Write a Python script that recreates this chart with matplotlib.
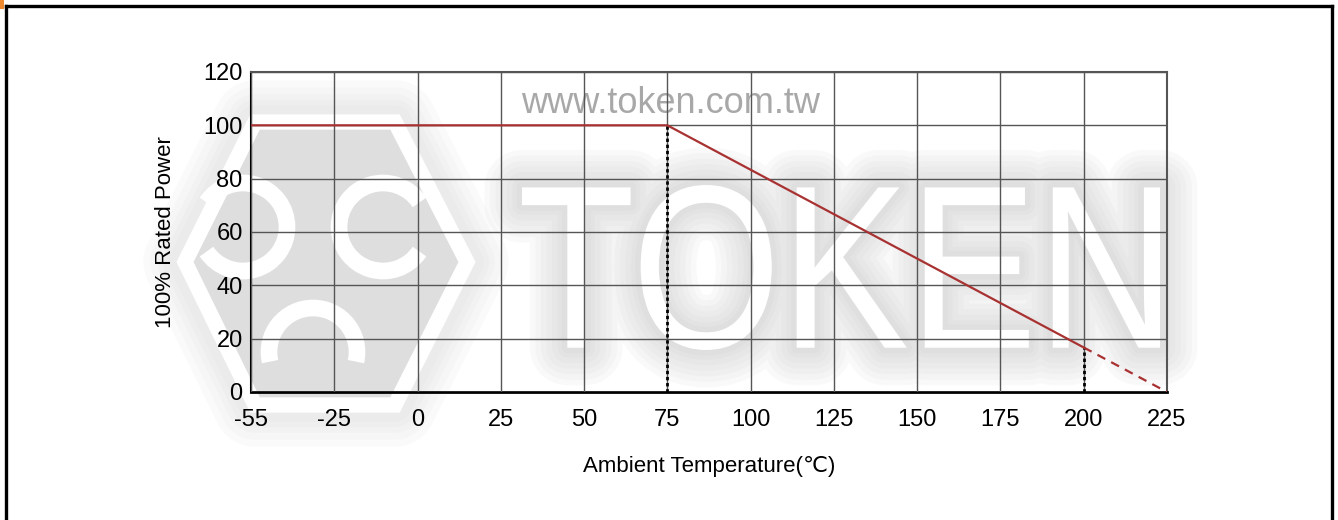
import numpy as np
import matplotlib
matplotlib.use("Agg")
import matplotlib.pyplot as plt
import matplotlib.patheffects as pe
from matplotlib.lines import Line2D
from matplotlib.patches import Rectangle, Polygon, Arc, PathPatch
from matplotlib.textpath import TextPath
from matplotlib.font_manager import FontProperties
from matplotlib.transforms import Affine2D

plt.rcParams['font.family'] = ['Liberation Sans', 'DejaVu Sans']

# data
tick_temps = [-55, -25, 0, 25, 50, 75, 100, 125, 150, 175, 200, 225]
tick_labels = ['-55', '-25', '0', '25', '50', '75', '100', '125', '150', '175', '200', '225']
y_ticks = [0, 20, 40, 60, 80, 100, 120]

solid_temps = [-55, 75, 200]
solid_power = [100, 100, 16.7]
dash_temps = [200, 225]
dash_power = [16.7, 0]
marker_temps = [75, 200]
marker_power = [100, 16.7]

W, H = 1338, 520


def pos(t):
    # axis is evenly spaced by tick index, not by value
    return np.interp(t, tick_temps, np.arange(len(tick_temps)))


def glow(color, widths, alpha):
    return [pe.Stroke(linewidth=w, foreground=color, alpha=alpha, joinstyle='round')
            for w in widths]


def px(x, y):
    return (x / W, 1 - y / H)


fig = plt.figure(figsize=(W / 100, H / 100), dpi=100)
ax = fig.add_axes([251 / W, 128 / H, 916 / W, 320 / H])

# ---- watermark logo ----
hexpts = [px(185, 262), px(255, 122), px(395, 122), px(467, 262), px(395, 405), px(255, 405)]
hexagon = Polygon(hexpts, closed=True, transform=fig.transFigure, facecolor='#dedede',
                  edgecolor='white', lw=11, zorder=0.3, clip_on=False,
                  path_effects=glow('#c4c4c4', [60, 50, 40, 32, 24], 0.07) + [pe.Normal()])
ax.add_artist(hexagon)
for cx, cy, th1, th2 in [(243, 227, -120, 120), (383, 227, 60, 300), (313, 352, -30, 210)]:
    x0, y0 = px(cx, cy)
    ring = Arc((x0, y0), 88 / W, 88 / H, theta1=th1, theta2=th2, transform=fig.transFigure,
               color='white', lw=12, zorder=0.4, clip_on=False)
    ax.add_artist(ring)

# ---- watermark text ----
tp = TextPath((0, 0), 'TOKEN', size=1, prop=FontProperties(family='Liberation Sans'))
ext = tp.get_extents()
x0, y0 = px(522, 350)
x1, y1 = px(1160, 185)
tr = (Affine2D().translate(-ext.x0, -ext.y0)
      .scale((x1 - x0) / ext.width, (y1 - y0) / ext.height)
      .translate(x0, y0) + fig.transFigure)
token = PathPatch(tp, transform=tr, facecolor='white', edgecolor='none', zorder=0.5,
                  clip_on=False,
                  path_effects=glow('#b8b8b8', [54, 46, 38, 30, 22, 14, 8], 0.07) + [pe.Normal()])
ax.add_artist(token)

ax.text(0.4585, 0.955, 'www.token.com.tw', transform=ax.transAxes, ha='center', va='top',
        fontsize=26, color='#a8a8a8', zorder=1)

# ---- curve ----
ax.plot(pos(solid_temps), solid_power, color='#a83232', lw=1.6, zorder=4)
ax.plot(pos(dash_temps), dash_power, color='#a83232', lw=1.6, ls=(0, (4, 3)), zorder=4)
for t, p in zip(marker_temps, marker_power):
    ax.plot([pos(t), pos(t)], [0, p], color='black', lw=2, ls=(0, (1.2, 1)), zorder=3)

ax.set_xlim(0, len(tick_temps) - 1)
ax.set_ylim(0, 120)
ax.set_xticks(np.arange(len(tick_temps)))
ax.set_xticklabels(tick_labels)
ax.set_yticks(y_ticks)
ax.tick_params(length=0, labelsize=17, pad=12)
ax.tick_params(axis='y', pad=6)
ax.grid(True, color='#555555', lw=1, zorder=2)
ax.set_axisbelow(False)
ax.patch.set_alpha(0)
for s in ['top', 'right']:
    ax.spines[s].set_color('#555555')
    ax.spines[s].set_linewidth(1.5)
ax.spines['bottom'].set_linewidth(2)
ax.spines['left'].set_linewidth(1.5)

ax.set_xlabel('Ambient Temperature(\u2103)', fontsize=16, labelpad=18)
ax.set_ylabel('100% Rated Power', fontsize=16, labelpad=20)

# outer frame
fig.add_artist(Line2D([6 / W, 6 / W], [0, 1 - 6 / H], color='black', lw=2.4))
fig.add_artist(Line2D([1332 / W, 1332 / W], [0, 1 - 6 / H], color='black', lw=2.4))
fig.add_artist(Line2D([6 / W, 1332 / W], [1 - 6 / H, 1 - 6 / H], color='black', lw=2.4))
fig.add_artist(Rectangle((0, 1 - 9 / H), 4 / W, 9 / H, transform=fig.transFigure,
                         color='#f08a30', lw=0))

fig.savefig('out.png', dpi=100)
